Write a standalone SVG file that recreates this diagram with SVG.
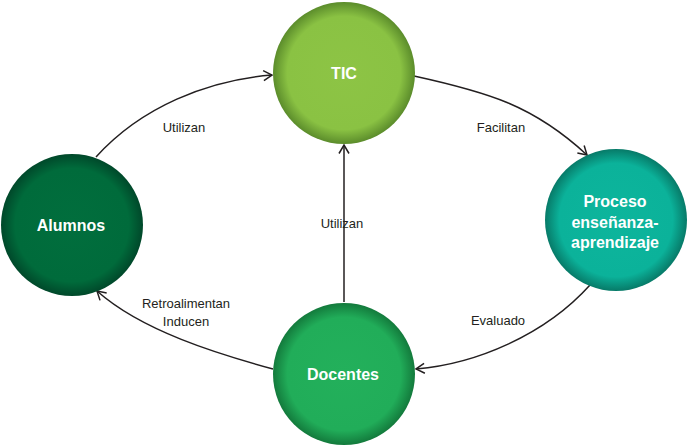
<svg xmlns="http://www.w3.org/2000/svg" width="690" height="448" viewBox="0 0 690 448">
<style>
.edge{fill:none;stroke:#231f20;stroke-width:1.5;marker-end:url(#arr)}
.lbl{font-family:"Liberation Sans",Arial,sans-serif;font-size:13px;fill:#231f20;text-anchor:middle}
.nl{font-family:"Liberation Sans",Arial,sans-serif;font-size:16px;font-weight:bold;fill:#ffffff;text-anchor:middle}
</style>
<defs>
<marker id="arr" markerUnits="userSpaceOnUse" markerWidth="14" markerHeight="14" refX="10" refY="6" orient="auto">
<path d="M1.5,1 L10,6 L1.5,11" fill="none" stroke="#231f20" stroke-width="1.5"/>
</marker>
<radialGradient id="gTic" cx="50%" cy="50%" r="50%">
<stop offset="0" stop-color="#8dc445"/><stop offset="0.8" stop-color="#8ac243"/><stop offset="1" stop-color="#5b8c2b"/>
</radialGradient>
<radialGradient id="gPro" cx="50%" cy="50%" r="50%">
<stop offset="0" stop-color="#0db59c"/><stop offset="0.8" stop-color="#0bb29a"/><stop offset="1" stop-color="#077a68"/>
</radialGradient>
<radialGradient id="gAlu" cx="50%" cy="50%" r="50%">
<stop offset="0" stop-color="#016e3d"/><stop offset="0.8" stop-color="#006b3b"/><stop offset="1" stop-color="#00482a"/>
</radialGradient>
<radialGradient id="gDoc" cx="50%" cy="50%" r="50%">
<stop offset="0" stop-color="#23b05b"/><stop offset="0.8" stop-color="#21ad59"/><stop offset="1" stop-color="#137a3c"/>
</radialGradient>
</defs>
<g id="connectors">
<path class="edge" d="M96,157 C141,107 208,80 272,75"/>
<path class="edge" d="M414,76 C487,92 533,105 587,155"/>
<path class="edge" d="M590,285 C545,335 476,364 416,369"/>
<path class="edge" d="M273,369 C218,354 142,331 97,291"/>
<path class="edge" d="M344,302 L344,145"/>
<text class="lbl" x="184" y="132">Utilizan</text>
<text class="lbl" x="501" y="132">Facilitan</text>
<text class="lbl" x="342" y="228">Utilizan</text>
<text class="lbl" x="186" y="308">Retroalimentan</text>
<text class="lbl" x="186" y="326">Inducen</text>
<text class="lbl" x="498" y="325">Evaluado</text>
</g>
<g id="tic">
<circle cx="344" cy="73" r="71" fill="url(#gTic)"/>
<text class="nl" x="344" y="79">TIC</text>
</g>
<g id="proceso">
<circle cx="616" cy="220" r="71" fill="url(#gPro)"/>
<text class="nl" x="615" y="207">Proceso</text>
<text class="nl" x="615" y="228">enseñanza-</text>
<text class="nl" x="615" y="248">aprendizaje</text>
</g>
<g id="alumnos">
<circle cx="72" cy="225" r="71" fill="url(#gAlu)"/>
<text class="nl" x="71" y="231">Alumnos</text>
</g>
<g id="docentes">
<circle cx="344" cy="374" r="71" fill="url(#gDoc)"/>
<text class="nl" x="343" y="380">Docentes</text>
</g>
</svg>
